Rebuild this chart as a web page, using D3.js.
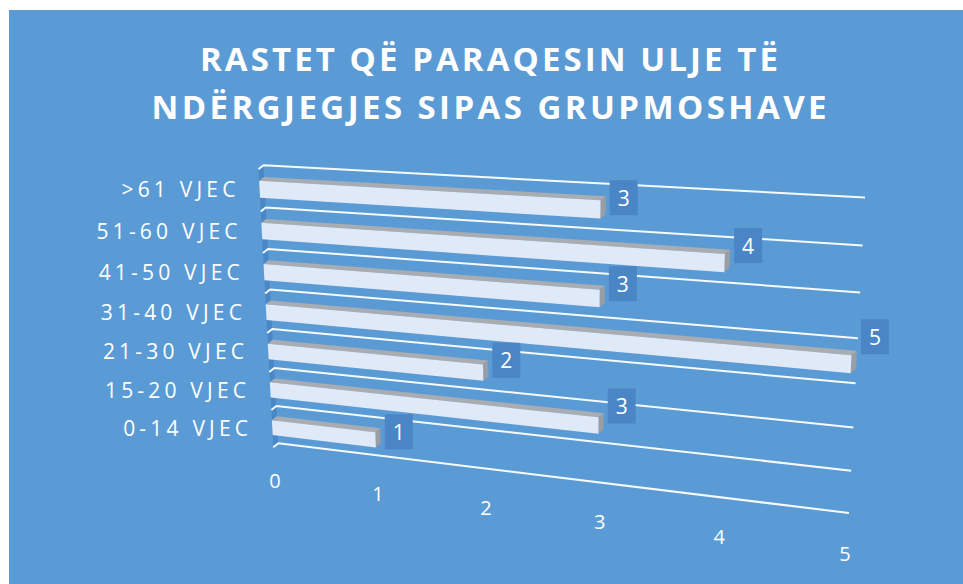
<!DOCTYPE html>
<html>
<head>
<meta charset="utf-8">
<script src="https://cdn.jsdelivr.net/npm/d3@7/dist/d3.min.js"></script>
<style>
  html, body { margin: 0; padding: 0; background: #ffffff; }
  svg { display: block; }
</style>
</head>
<body>
<div id="chart"></div>
<script>
// Chart data (bottom row first)
const categories = ["0-14 VJEC", "15-20 VJEC", "21-30 VJEC", "31-40 VJEC", "41-50 VJEC", "51-60 VJEC", ">61 VJEC"];
const values = [1, 3, 2, 5, 3, 4, 3];
const ticks = [0, 1, 2, 3, 4, 5];
const titleLines = ["RASTET QË PARAQESIN ULJE TË", "NDËRGJEGJES SIPAS GRUPMOSHAVE"];

const width = 963, height = 584;

// Back wall corners of the 3D plot area and perspective settings
const wall = { bl: [278.3, 443.3], br: [849, 513], tr: [865, 197.5], tl: [263.5, 165.3] };
const wRight = 0.882;   // perspective weight at the right edge (right side is closer)
const wTop = 0.93;      // perspective weight at the top edge
const zVec = [-5, 4];   // screen shift for one unit of depth toward the viewer
const tickLine = { a: [275, 480], b: [845, 553] };
const barLo = 0.33, barHi = 0.73;  // bar thickness inside its band
const zFront = 1, zBack = 0.05;

const x = d3.scaleLinear().domain([0, d3.max(ticks)]).range([0, 1]);
const y = d3.scaleBand().domain(categories).range([0, 1]);

const persp = (t, w) => t * w / ((1 - t) + t * w);
const lerp = (a, b, t) => [a[0] + (b[0] - a[0]) * t, a[1] + (b[1] - a[1]) * t];

// value (0..5), v (0..1 up the wall), z (depth toward viewer)
function project(value, v, z) {
  const u = x(value);
  const su = persp(u, wRight);
  const sv = persp(v, wTop);
  const bottom = lerp(wall.bl, wall.br, su);
  const top = lerp(wall.tl, wall.tr, su);
  const p = lerp(bottom, top, sv);
  const k = 1 / ((1 - u) + u * wRight);
  return [p[0] + z * zVec[0] * k, p[1] + z * zVec[1] * k];
}

const svg = d3.select('#chart')
  .append('svg')
  .attr('width', width)
  .attr('height', height);

svg.append('rect')
  .attr('x', 9).attr('y', 10)
  .attr('width', width - 9).attr('height', height - 10)
  .attr('fill', '#5b9bd5');

// Title
svg.append('g').selectAll('text')
  .data(titleLines)
  .join('text')
  .attr('x', 489)
  .attr('y', (d, i) => 71 + i * 48)
  .attr('text-anchor', 'middle')
  .attr('font-family', '"Open Sans", sans-serif')
  .attr('font-weight', 'bold')
  .attr('font-size', 33)
  .attr('fill', '#ffffff')
  .attr('textLength', (d, i) => i === 0 ? 578 : 675)
  .attr('lengthAdjust', 'spacing')
  .text(d => d);

const line = d3.line();

// Side wall (left)
svg.append('path')
  .attr('d', line([project(0, 0, 0), project(0, 1, 0), project(0, 1, zFront), project(0, 0, zFront)]) + 'Z')
  .attr('fill', '#4a87c6');

// Gridlines at category boundaries
const bounds = d3.range(categories.length + 1).map(k => k * y.step());
svg.append('g').selectAll('path')
  .data(bounds)
  .join('path')
  .attr('d', v => line([project(0, v, zFront), project(0, v, 0), project(d3.max(ticks), v, 0)]))
  .attr('fill', 'none')
  .attr('stroke', '#ffffff')
  .attr('stroke-width', 2)
  .attr('stroke-opacity', 0.95)
  .attr('stroke-linejoin', 'round');

// Bars
const bars = categories.map((c, i) => {
  const v0 = y(c) + barLo * y.bandwidth();
  const v1 = y(c) + barHi * y.bandwidth();
  const val = values[i];
  const front = [project(0, v0, zFront), project(val, v0, zFront), project(val, v1, zFront), project(0, v1, zFront)];
  const topFace = [project(0, v1, zFront), project(val, v1, zFront), project(val, v1, zBack), project(0, v1, zBack)];
  const endFace = [project(val, v0, zFront), project(val, v1, zFront), project(val, v1, zBack), project(val, v0, zBack)];
  return { c, val, v0, v1, front, topFace, endFace };
});

const barG = svg.append('g').selectAll('g')
  .data(bars)
  .join('g');

barG.append('path')
  .attr('d', d => line(d.topFace) + 'Z')
  .attr('fill', '#a9adb2');
barG.append('path')
  .attr('d', d => line(d.endFace) + 'Z')
  .attr('fill', '#9a9ea3');
barG.append('path')
  .attr('d', d => line(d.front) + 'Z')
  .attr('fill', '#dfe9f7');

// Data labels, placed right of each bar's screen box
const boxW = 28, boxH = 35;
const labelG = svg.append('g').selectAll('g')
  .data(bars)
  .join('g')
  .attr('transform', d => {
    const pts = d.front.concat(d.topFace, d.endFace);
    const maxX = d3.max(pts, p => p[0]);
    const midY = (d3.min(pts, p => p[1]) + d3.max(pts, p => p[1])) / 2;
    return `translate(${maxX + 4},${midY})`;
  });
labelG.append('rect')
  .attr('x', 0).attr('y', -boxH / 2)
  .attr('width', boxW).attr('height', boxH)
  .attr('fill', '#4a86c5');
labelG.append('text')
  .attr('x', boxW / 2).attr('y', 0)
  .attr('text-anchor', 'middle')
  .attr('dominant-baseline', 'central')
  .attr('font-family', '"Open Sans", sans-serif')
  .attr('font-size', 21)
  .attr('fill', '#ffffff')
  .text(d => d.val);

// Category labels
svg.append('g').selectAll('text')
  .data(bars)
  .join('text')
  .attr('x', d => project(0, (d.v0 + d.v1) / 2, zFront)[0] - 20)
  .attr('y', d => project(0, (d.v0 + d.v1) / 2, zFront)[1])
  .attr('text-anchor', 'end')
  .attr('dominant-baseline', 'central')
  .attr('font-family', '"Open Sans", sans-serif')
  .attr('font-size', 21)
  .attr('letter-spacing', 4.2)
  .attr('fill', '#ffffff')
  .text(d => d.c);

// Value axis tick labels along the front edge of the floor
svg.append('g').selectAll('text')
  .data(ticks)
  .join('text')
  .attr('x', t => lerp(tickLine.a, tickLine.b, persp(x(t), wRight))[0])
  .attr('y', t => lerp(tickLine.a, tickLine.b, persp(x(t), wRight))[1])
  .attr('text-anchor', 'middle')
  .attr('dominant-baseline', 'central')
  .attr('font-family', '"Open Sans", sans-serif')
  .attr('font-size', 20)
  .attr('fill', '#ffffff')
  .text(t => t);
</script>
</body>
</html>
